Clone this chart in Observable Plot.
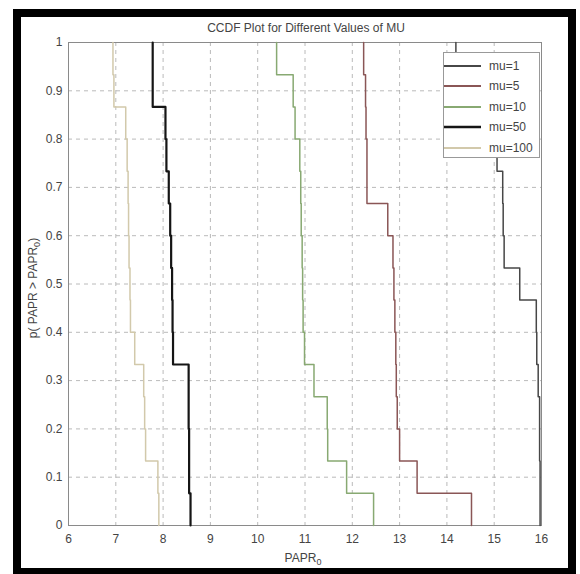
<!DOCTYPE html>
<html><head><meta charset="utf-8">
<script src="https://cdn.jsdelivr.net/npm/d3@7"></script>
<script src="https://cdn.jsdelivr.net/npm/@observablehq/plot@0.6"></script>
<style>
body{margin:0;background:#fff;}
#wrap{position:relative;width:580px;height:574px;overflow:hidden;font-family:"Liberation Sans",Arial,sans-serif;color:#444;}
#wrap svg{position:absolute;left:0;top:0;}
#frame{position:absolute;left:13px;top:9px;right:4px;bottom:-2px;border:8px solid #000;box-sizing:border-box;}
.ov{position:absolute;white-space:nowrap;font-size:12px;color:#444;}
#title{left:0;width:612px;top:21px;text-align:center;font-size:12px;}
#ylab{left:33px;top:288px;transform:translate(-50%,-50%) rotate(-90deg);}
#xlab{left:303px;top:558px;transform:translate(-50%,-50%);}
sub{font-size:9px;vertical-align:-3px;line-height:0;}
#legend{position:absolute;left:443px;top:52px;width:97px;height:106px;border:1px solid #999;background:#fff;box-sizing:border-box;}
.row{position:absolute;left:0;height:20px;width:97px;}
.row svg{position:absolute;left:5px;top:0;}
.row span{position:absolute;left:45px;top:3px;font-size:12px;color:#444;}
</style>
</head><body>
<div id="wrap">
  <div id="plot"></div>
  <div id="frame"></div>
  <div class="ov" id="title">CCDF Plot for Different Values of MU</div>
  <div class="ov" id="ylab">p( PAPR &gt; PAPR<sub>0</sub>)</div>
  <div class="ov" id="xlab">PAPR<sub>0</sub></div>
  <div id="legend"></div>
</div>
<script>
// Series labels
const muLabels = ["mu=1", "mu=5", "mu=10", "mu=50", "mu=100"];
// Sorted PAPR samples (dB) read from the staircase of each CCDF, 15 samples each
const paprMu1   = [14.19, 14.50, 14.85, 15.06, 15.18, 15.19, 15.21, 15.54, 15.89, 15.90, 15.93, 15.96, 15.96, 15.97, 15.97];
const paprMu5   = [12.24, 12.28, 12.29, 12.31, 12.31, 12.75, 12.86, 12.88, 12.90, 12.92, 12.93, 12.95, 13.00, 13.37, 14.52];
const paprMu10  = [10.40, 10.75, 10.79, 10.89, 10.91, 10.92, 10.94, 10.95, 10.96, 10.99, 11.19, 11.47, 11.48, 11.88, 12.45];
const paprMu50  = [7.78, 7.78, 8.05, 8.07, 8.12, 8.15, 8.17, 8.19, 8.20, 8.21, 8.54, 8.54, 8.55, 8.55, 8.58];
const paprMu100 = [6.94, 6.96, 7.21, 7.24, 7.26, 7.27, 7.28, 7.30, 7.31, 7.40, 7.59, 7.61, 7.63, 7.89, 7.91];
// Axis ticks
const xTicks = [6, 7, 8, 9, 10, 11, 12, 13, 14, 15, 16];
const yTicks = [0, 0.1, 0.2, 0.3, 0.4, 0.5, 0.6, 0.7, 0.8, 0.9, 1];

const seriesSamples = [paprMu1, paprMu5, paprMu10, paprMu50, paprMu100];
const colors = ["#474747", "#8a5656", "#88a972", "#151515", "#d2c9ab"];
const widths = [1.5, 1.5, 1.5, 2.2, 1.5];

function ccdfPath(v, label) {
  const n = v.length;
  const pts = [{x: v[0], y: 1, mu: label}];
  for (let k = 0; k < n; k++) {
    const p = (n - k - 1) / n;
    pts.push({x: v[k], y: p, mu: label});
    if (k < n - 1) pts.push({x: v[k + 1], y: p, mu: label});
  }
  return pts;
}

const lines = seriesSamples.map((v, i) =>
  Plot.line(ccdfPath(v, muLabels[i]), {x: "x", y: "y", stroke: colors[i], strokeWidth: widths[i]})
);

const chart = Plot.plot({
  width: 580,
  height: 574,
  marginLeft: 68,
  marginRight: 39,
  marginTop: 42,
  marginBottom: 49,
  style: {fontFamily: "Liberation Sans, Arial, sans-serif", fontSize: "12px", color: "#444", background: "transparent"},
  x: {domain: [6, 16]},
  y: {domain: [0, 1]},
  marks: [
    Plot.gridX(xTicks.slice(1, -1), {stroke: "#a8a8a8", strokeOpacity: 1, strokeDasharray: "4,4", strokeWidth: 0.8}),
    Plot.gridY(yTicks.slice(1, -1), {stroke: "#a8a8a8", strokeOpacity: 1, strokeDasharray: "4,4", strokeWidth: 0.8}),
    Plot.frame({stroke: "#8a8a8a"}),
    ...lines,
    Plot.axisX(xTicks, {tickSize: 0, tickPadding: 9, label: null, fontSize: 12, fill: "#444"}),
    Plot.axisY(yTicks, {tickSize: 0, tickPadding: 6, label: null, fontSize: 12, fill: "#444",
      tickFormat: d => (d === 0 || d === 1) ? String(d) : d.toFixed(1)})
  ]
});
document.getElementById("plot").appendChild(chart);

const legend = document.getElementById("legend");
muLabels.forEach((lab, i) => {
  const row = document.createElement("div");
  row.className = "row";
  row.style.top = (3 + i * 20.4) + "px";
  row.innerHTML = `<svg width="38" height="20"><line x1="0" x2="37" y1="10" y2="10" stroke="${colors[i]}" stroke-width="${widths[i] + 0.4}"/></svg><span>${lab}</span>`;
  legend.appendChild(row);
});
</script>
</body></html>
